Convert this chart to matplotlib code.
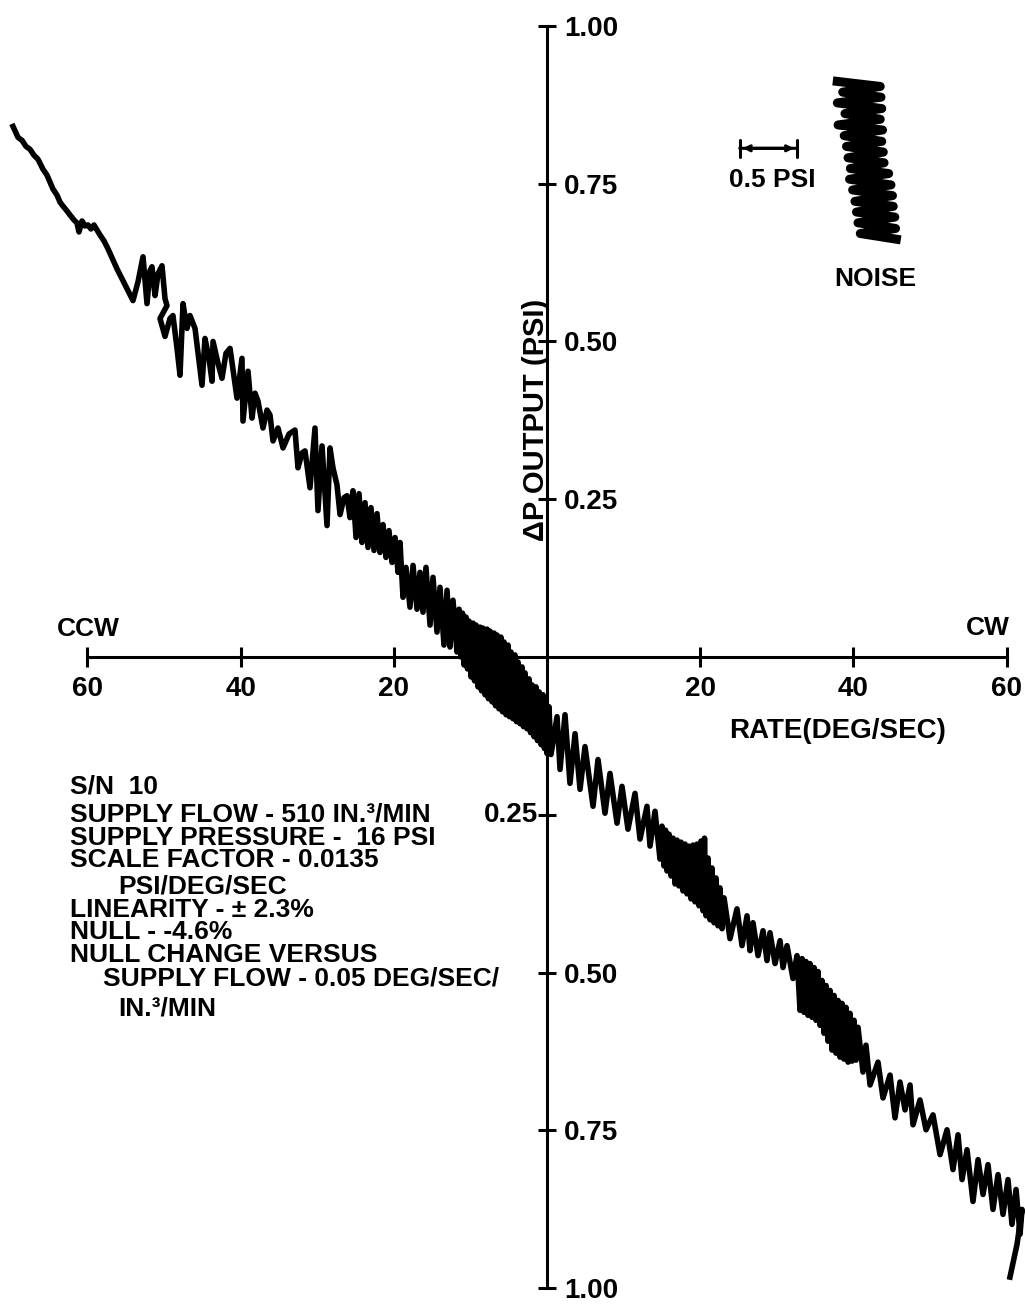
import numpy as np
import matplotlib
matplotlib.use('Agg')
import matplotlib.pyplot as plt
from matplotlib import font_manager

# trace: rate (deg/sec, CCW negative) vs dP output (psi)
rate = [-69.71, -69.06, -68.54, -68.02, -67.49, -66.97, -66.45, -65.80, -65.27, -64.88,
        -64.49, -63.97, -63.58, -63.19, -62.66, -62.27, -61.75, -61.36, -61.10, -60.70,
        -60.31, -59.92, -59.53, -59.14, -58.75, -58.36, -57.83, -57.31, -56.79, -56.14,
        -55.48, -54.83, -54.05, -53.39, -52.74, -52.22, -51.83, -51.57, -51.17, -50.78,
        -50.26, -49.87, -49.61, -50.52, -49.87, -49.22, -48.83, -48.30, -47.91, -47.52,
        -47.00, -46.61, -45.95, -45.04, -44.65, -44.13, -43.73, -43.60, -42.95, -42.43,
        -41.91, -41.38, -40.47, -39.82, -39.69, -39.03, -38.51, -38.12, -37.73, -37.08,
        -36.55, -36.16, -35.77, -35.12, -34.46, -33.68, -32.90, -32.51, -31.98, -31.59,
        -30.94, -30.29, -29.90, -29.37, -28.72, -28.33, -27.94, -27.42, -27.02, -26.50,
        -26.11, -25.72, -25.33,
        -24.93, -24.54, -24.15, -23.76, -23.37, -22.98, -22.58, -22.19, -21.80, -21.41,
        -21.02, -20.63, -20.23, -19.84, -19.45, -19.19,
        -18.80, -18.41, -17.89, -17.49, -16.97, -16.58, -16.19, -15.80, -15.27, -14.88,
        -14.36, -13.97, -13.45, -13.05, -12.66, -12.27,
        -11.75, -11.49, -11.23, -11.03, -10.84, -10.57, -10.38, -10.18, -9.92, -9.66,
        -9.46, -9.27, -9.01, -8.75, -8.55, -8.36, -8.09, -7.83, -7.64, -7.44,
        -7.18, -6.92, -6.72, -6.53, -6.27, -6.01, -5.81, -5.61, -5.35, -5.09,
        -4.90, -4.70, -4.44, -4.18, -3.98, -3.79, -3.52, -3.26, -3.07, -2.87,
        -2.61, -2.35, -2.15, -1.96, -1.70, -1.44, -1.24, -1.04, -0.78, -0.52,
        -0.33, -0.13, 0.00, 0.26, 0.52,
        1.31, 1.70, 2.35, 3.00, 3.66, 4.31, 4.96, 6.01, 6.66, 7.57,
        8.22, 9.14, 9.79, 10.57, 11.49, 12.14, 13.05, 13.45, 14.10, 14.75,
        15.01, 15.27, 15.47, 15.67, 15.93, 16.19, 16.45, 16.71, 16.97, 17.23,
        17.49, 17.75, 18.02, 18.28, 18.54, 18.80, 19.06, 19.32, 19.58, 19.84,
        20.10, 20.37, 20.56, 20.76, 21.02, 21.28, 21.54, 21.80, 22.06, 22.32,
        22.58, 22.85, 23.11,
        23.89, 24.80, 25.46, 26.11, 26.50, 26.89, 27.55, 28.20, 28.72, 29.11,
        29.77, 30.42, 30.81, 31.33, 32.11, 32.64,
        33.03, 33.29, 33.55, 33.81, 34.07, 34.33, 34.60, 34.86, 35.12, 35.38,
        35.64, 35.90, 36.16, 36.42, 36.68, 36.95, 37.21, 37.47, 37.73, 37.99,
        38.25, 38.51, 38.77, 39.03, 39.30, 39.56, 39.82, 40.08, 40.34, 40.60,
        41.25, 41.64, 42.17, 43.21, 43.86, 44.78, 45.43, 46.08, 46.74, 47.39,
        47.78, 48.69, 49.48, 50.39, 51.31, 52.22, 53.00, 53.66, 54.18, 54.83,
        55.61, 56.27, 56.92, 57.57, 58.22, 58.88, 59.53, 60.18, 60.70, 61.23,
        61.75, 62.01, 61.36, 60.44]

dp = [0.8407, 0.8233, 0.8186, 0.8091, 0.8044, 0.7950, 0.7886, 0.7729, 0.7634, 0.7524,
      0.7413, 0.7319, 0.7208, 0.7145, 0.7066, 0.7003, 0.6924, 0.6877, 0.6735, 0.6909,
      0.6830, 0.6845, 0.6782, 0.6845, 0.6767, 0.6688, 0.6593, 0.6467, 0.6325, 0.6151,
      0.5994, 0.5836, 0.5647, 0.5946, 0.6341, 0.5599, 0.6120, 0.6183, 0.5726, 0.6073,
      0.6199, 0.5678, 0.5568, 0.5363, 0.5079, 0.5363, 0.5410, 0.4890, 0.4464, 0.5599,
      0.5205, 0.5410, 0.5205, 0.4306, 0.5047, 0.4732, 0.4369, 0.5000, 0.4653, 0.4416,
      0.4811, 0.4890, 0.4101, 0.4732, 0.3738, 0.4527, 0.3785, 0.4180, 0.4054, 0.3628,
      0.3912, 0.3833, 0.3423, 0.3628, 0.3312, 0.3533, 0.3596, 0.2997, 0.3233, 0.3265,
      0.2681, 0.3628, 0.2319, 0.3344, 0.2082, 0.3312, 0.2997, 0.2729, 0.2256, 0.2524,
      0.2555, 0.2208, 0.2634,
      0.1893, 0.2587, 0.1814, 0.2445, 0.1735, 0.2366, 0.1688, 0.2271, 0.1656, 0.2098,
      0.1577, 0.2003, 0.1498, 0.1893, 0.1341, 0.1814,
      0.0946, 0.1420, 0.0789, 0.1451, 0.0757, 0.1341, 0.0710, 0.1420, 0.0505, 0.1262,
      0.0394, 0.1104, 0.0189, 0.1057, 0.0158, 0.0899,
      0.0079, 0.0757, 0.0000, 0.0694, -0.0126, 0.0631, -0.0189, 0.0568, -0.0315, 0.0536,
      -0.0379, 0.0505, -0.0473, 0.0473, -0.0536, 0.0457, -0.0599, 0.0442, -0.0662, 0.0410,
      -0.0710, 0.0379, -0.0773, 0.0347, -0.0820, 0.0315, -0.0868, 0.0237, -0.0915, 0.0189,
      -0.0946, 0.0079, -0.0978, 0.0032, -0.1025, -0.0079, -0.1057, -0.0158, -0.1104, -0.0252,
      -0.1136, -0.0347, -0.1199, -0.0442, -0.1262, -0.0473, -0.1325, -0.0552, -0.1388, -0.0599,
      -0.1451, -0.0662, -0.1530, -0.0789, -0.1546,
      -0.0946, -0.1782, -0.0915, -0.2003, -0.1215, -0.2098, -0.1420, -0.2366, -0.1625, -0.2476,
      -0.1845, -0.2634, -0.2050, -0.2729, -0.2161, -0.2886, -0.2366, -0.2997, -0.2445, -0.3202,
      -0.2681, -0.3312, -0.2744, -0.3391, -0.2808, -0.3470, -0.2871, -0.3596, -0.2902, -0.3628,
      -0.2934, -0.3707, -0.2965, -0.3754, -0.2997, -0.3833, -0.2981, -0.3880, -0.2965, -0.3943,
      -0.2918, -0.4022, -0.2871, -0.4101, -0.3186, -0.4164, -0.3344, -0.4211, -0.3502, -0.4259,
      -0.3659, -0.4306, -0.3817,
      -0.4464, -0.3991, -0.4574, -0.4101, -0.4653, -0.4211, -0.4732, -0.4338, -0.4811, -0.4369,
      -0.4858, -0.4495, -0.4921, -0.4574, -0.5095, -0.4732,
      -0.5599, -0.4779, -0.5631, -0.4826, -0.5678, -0.4858, -0.5710, -0.4921, -0.5757, -0.4984,
      -0.5836, -0.5126, -0.5962, -0.5205, -0.6088, -0.5284, -0.6230, -0.5363, -0.6278, -0.5442,
      -0.6341, -0.5489, -0.6372, -0.5552, -0.6420, -0.5647, -0.6404, -0.5757, -0.6388, -0.5868,
      -0.6577, -0.6151, -0.6782, -0.6420, -0.6987, -0.6625, -0.7303, -0.6735, -0.7177, -0.6782,
      -0.7413, -0.7019, -0.7492, -0.7256, -0.7886, -0.7492, -0.8123, -0.7571, -0.8281, -0.7808,
      -0.8628, -0.7965, -0.8517, -0.8044, -0.8754, -0.8202, -0.8833, -0.8281, -0.8991, -0.8438,
      -0.9148, -0.8754, -0.9306, -0.9826]

# noise sample (drawn at the same scale, top right)
noise_rate = [37.9, 43.5, 38.6, 43.6, 37.9, 43.7, 38.9, 43.5, 38.0, 43.8,
              38.8, 43.7, 39.1, 43.9, 39.3, 44.0, 39.6, 44.6, 39.5, 44.9,
              39.9, 45.1, 40.2, 45.2, 40.4, 45.4, 40.6, 45.5, 40.9, 45.6]
noise_dp = [0.912, 0.904, 0.895, 0.887, 0.878, 0.869, 0.861, 0.852, 0.843, 0.835,
            0.826, 0.817, 0.809, 0.800, 0.791, 0.783, 0.774, 0.766, 0.757, 0.748,
            0.740, 0.731, 0.722, 0.714, 0.705, 0.697, 0.688, 0.679, 0.671, 0.662]

xticks = [-60, -40, -20, 20, 40, 60]
xtick_labels = ['60', '40', '20', '20', '40', '60']
yticks = [-1.0, -0.75, -0.5, -0.25, 0.25, 0.5, 0.75, 1.0]
ytick_labels = ['1.00', '0.75', '0.50', '', '0.25', '0.50', '0.75', '1.00']

notes = ['S/N  10',
         'SUPPLY FLOW - 510 IN.\u00b3/MIN',
         'SUPPLY PRESSURE -  16 PSI',
         'SCALE FACTOR - 0.0135',
         'PSI/DEG/SEC',
         'LINEARITY - \u00b1 2.3%',
         'NULL - -4.6%',
         'NULL CHANGE VERSUS',
         'SUPPLY FLOW - 0.05 DEG/SEC/',
         'IN.\u00b3/MIN']
notes_y = [786, 814, 838, 860, 886, 910, 932, 955, 978, 1008]
notes_x = [70, 70, 70, 70, 118, 70, 70, 70, 103, 118]

# narrow bold face if there is one
have = {f.name for f in font_manager.fontManager.ttflist}
fam = [f for f in ['DejaVu Sans Condensed', 'Liberation Sans Narrow', 'Liberation Sans'] if f in have]
plt.rcParams['font.family'] = fam + ['DejaVu Sans']
plt.rcParams['font.weight'] = 'bold'

W, H = 1025, 1307
fig = plt.figure(figsize=(W / 100, H / 100), dpi=100)
ax = fig.add_axes([0, 0, 1, 1])
ax.set_xlim(-71.41, 62.40)
ax.set_ylim(-1.03, 1.041)

# axes crossing at the origin
ax.spines['top'].set_visible(False)
ax.spines['left'].set_visible(False)
ax.spines['bottom'].set_position(('data', 0))
ax.spines['right'].set_position(('data', 0))
ax.spines['bottom'].set_bounds(-60, 60)
ax.spines['right'].set_bounds(-1, 1)
for s in ['bottom', 'right']:
    ax.spines[s].set_linewidth(2.2)
ax.yaxis.tick_right()

ax.set_xticks(xticks)
ax.set_xticklabels(xtick_labels)
ax.set_yticks(yticks)
ax.set_yticklabels(ytick_labels)
ax.tick_params(axis='x', direction='inout', length=14, width=2.2, pad=7, labelsize=20)
ax.tick_params(axis='y', direction='inout', length=13, width=2.2, pad=6, labelsize=20)

ax.plot(rate, dp, color='black', lw=4, solid_joinstyle='round')
ax.plot(noise_rate, noise_dp, color='black', lw=6.5)

# 0.5 psi scale bar
ax.annotate('', xy=(33.0, 0.806), xytext=(24.8, 0.806),
            arrowprops=dict(arrowstyle='|-|', lw=2.2, mutation_scale=6))
ax.annotate('', xy=(32.6, 0.806), xytext=(25.2, 0.806),
            arrowprops=dict(arrowstyle='<->', lw=2.2, mutation_scale=9))


def px(x, y):
    return x / W, 1 - y / H


kw = dict(transform=ax.transAxes, fontweight='bold', color='black')
ax.text(*px(88, 629), 'CCW', ha='center', va='center', fontsize=19, **kw)
ax.text(*px(988, 628), 'CW', ha='center', va='center', fontsize=19, **kw)
ax.text(*px(838, 731), 'RATE(DEG/SEC)', ha='center', va='center', fontsize=20, **kw)
ax.text(*px(536, 420), '\u0394P OUTPUT (PSI)', ha='center', va='center', rotation=90, fontsize=21, **kw)
ax.text(*px(538, 815), '0.25', ha='right', va='center', fontsize=20, **kw)
ax.text(*px(772, 180), '0.5 PSI', ha='center', va='center', fontsize=19, **kw)
ax.text(*px(875, 279), 'NOISE', ha='center', va='center', fontsize=19, **kw)

for t, x, y in zip(notes, notes_x, notes_y):
    ax.text(*px(x, y), t, ha='left', va='center', fontsize=19, **kw)

plt.savefig('out.png', dpi=100)
plt.close()
